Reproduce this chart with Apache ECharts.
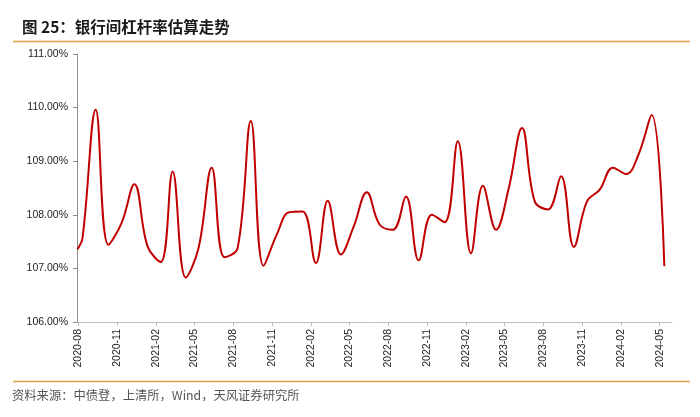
<!DOCTYPE html>
<html>
<head>
<meta charset="utf-8">
<script src="https://cdn.jsdelivr.net/npm/echarts@6/dist/echarts.min.js"></script>
<style>
  html, body { margin: 0; padding: 0; background: #fff; }
  #chart { width: 700px; height: 417px; }
</style>
</head>
<body>
<div id="chart"></div>
<script>
// 数据点日期（月中取样）
var dates = [
    '2020-07-31', '2020-08-12', '2020-09-12', '2020-10-12', '2020-11-12', '2020-12-12',
    '2021-01-12', '2021-02-12', '2021-03-12', '2021-04-12', '2021-05-12', '2021-06-12',
    '2021-07-12', '2021-08-12', '2021-09-12', '2021-10-12', '2021-11-12', '2021-12-12',
    '2022-01-12', '2022-02-12', '2022-03-12', '2022-04-12', '2022-05-12', '2022-06-12',
    '2022-07-12', '2022-08-12', '2022-09-12', '2022-10-12', '2022-11-12', '2022-12-12',
    '2023-01-12', '2023-02-12', '2023-03-12', '2023-04-12', '2023-05-12', '2023-06-12',
    '2023-07-12', '2023-08-12', '2023-09-12', '2023-10-12', '2023-11-12', '2023-12-12',
    '2024-01-12', '2024-02-12', '2024-03-12', '2024-04-12', '2024-05-12'
];
// 银行间杠杆率估算（%）
var leverage = [
    107.36, 107.57, 109.96, 107.44, 107.85, 108.57,
    107.41, 107.12, 108.81, 106.83, 107.38, 108.88,
    107.21, 107.38, 109.75, 107.05, 107.63, 108.05,
    108.06, 107.10, 108.26, 107.26, 107.78, 108.42,
    107.82, 107.72, 108.34, 107.15, 108.00, 107.86,
    109.37, 107.28, 108.54, 107.72, 108.50, 109.62,
    108.25, 108.10, 108.72, 107.40, 108.25, 108.47,
    108.88, 108.76, 109.12, 109.86, 107.04
];
// x轴刻度
var tickLabels = [
    '2020-08', '2020-11', '2021-02', '2021-05', '2021-08', '2021-11',
    '2022-02', '2022-05', '2022-08', '2022-11', '2023-02', '2023-05',
    '2023-08', '2023-11', '2024-02', '2024-05'
];

function toTime(s) {
    return new Date(+s.slice(0, 4), +s.slice(5, 7) - 1, s.length > 7 ? +s.slice(8, 10) : 1).getTime();
}
var tickValues = tickLabels.map(toTime);

var myChart = echarts.init(document.getElementById('chart'));
var option = {
    animation: false,
    grid: {left: 77, right: 28, top: 54, bottom: 95},
    graphic: [
        {type: 'text', left: 22, top: 19, style: {text: '图 25：银行间杠杆率估算走势', font: 'bold 15.5px "Noto Sans CJK SC"', fill: '#1a1a1a'}},
        {type: 'line', shape: {x1: 13, y1: 41.5, x2: 690, y2: 41.5}, style: {stroke: '#E39A45', lineWidth: 1.5}},
        {type: 'line', shape: {x1: 13, y1: 381.5, x2: 690, y2: 381.5}, style: {stroke: '#E39A45', lineWidth: 1.5}},
        {type: 'text', left: 12, top: 389, style: {text: '资料来源：中债登，上清所，Wind，天风证券研究所', font: '12.3px "Noto Sans CJK SC"', fill: '#555'}}
    ],
    xAxis: {
        type: 'value',
        min: toTime('2020-07-30'),
        max: toTime('2024-05-30'),
        axisLine: {lineStyle: {color: '#BFBFBF', width: 1}},
        axisTick: {show: true, length: 4, customValues: tickValues, lineStyle: {color: '#BFBFBF'}},
        axisLabel: {
            customValues: tickValues,
            rotate: 90,
            margin: 7,
            fontSize: 10.5,
            fontFamily: 'Liberation Sans',
            color: '#222',
            formatter: function (v) {
                var d = new Date(v);
                return d.getFullYear() + '-' + String(d.getMonth() + 1).padStart(2, '0');
            }
        },
        splitLine: {show: false}
    },
    yAxis: {
        type: 'value',
        min: 106,
        max: 111,
        interval: 1,
        axisLine: {show: true, lineStyle: {color: '#8C8C8C', width: 1}},
        axisTick: {show: true, length: 4, lineStyle: {color: '#8C8C8C'}},
        axisLabel: {fontSize: 10.5, fontFamily: 'Liberation Sans', color: '#222', margin: 9,
            formatter: function (v) { return v.toFixed(2) + '%'; }},
        splitLine: {show: false}
    },
    series: [{
        type: 'line',
        data: dates.map(function (d, i) { return [toTime(d), leverage[i]]; }),
        smooth: 0.4,
        symbol: 'none',
        lineStyle: {color: '#C00000', width: 2}
    }]
};
myChart.setOption(option);
window.addEventListener("resize", function () {
    myChart.resize();
});
</script>
</body>
</html>
